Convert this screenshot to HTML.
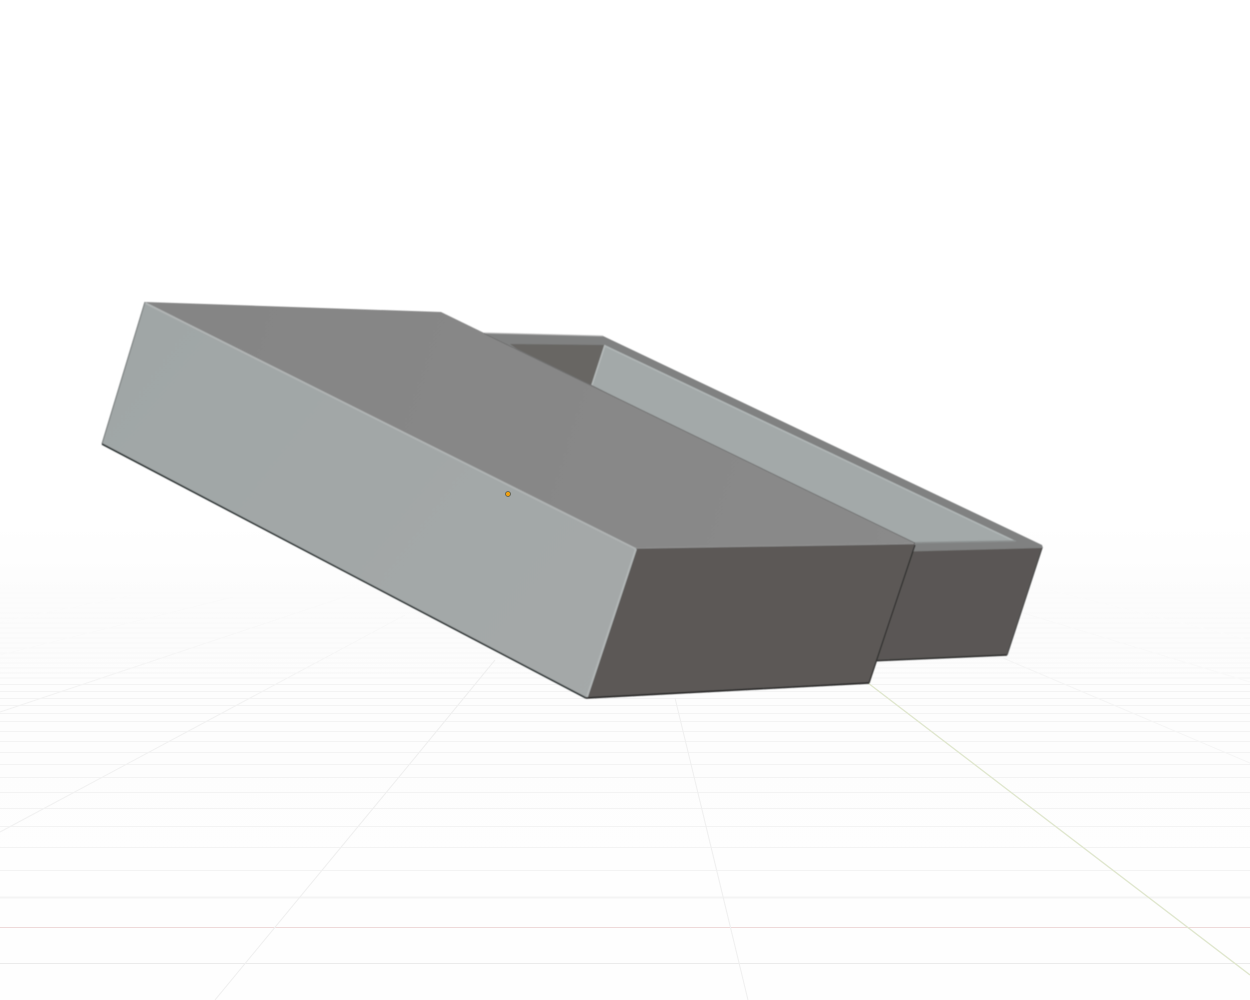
<!DOCTYPE html>
<html>
<head>
<meta charset="utf-8">
<style>
html,body{margin:0;padding:0;background:#fff}
svg{display:block}
</style>
</head>
<body>
<svg width="1250" height="1000" viewBox="0 0 1250 1000" xmlns="http://www.w3.org/2000/svg">
<defs>
<linearGradient id="bg" x1="0" y1="0" x2="0" y2="1">
<stop offset="0" stop-color="#ffffff"/>
<stop offset="0.525" stop-color="#ffffff"/>
<stop offset="0.6" stop-color="#fcfcfc"/>
<stop offset="0.7" stop-color="#fdfdfd"/>
<stop offset="1" stop-color="#fefefe"/>
</linearGradient>
<linearGradient id="fade" x1="0" y1="560" x2="0" y2="690" gradientUnits="userSpaceOnUse">
<stop offset="0" stop-color="#fcfcfc"/>
<stop offset="1" stop-color="#f5f5f5"/>
</linearGradient>
<linearGradient id="dfade" x1="0" y1="590" x2="0" y2="720" gradientUnits="userSpaceOnUse">
<stop offset="0" stop-color="#fbfbfb"/>
<stop offset="1" stop-color="#f1f1f1"/>
</linearGradient>
<linearGradient id="top" x1="145" y1="302" x2="915" y2="544" gradientUnits="userSpaceOnUse">
<stop offset="0" stop-color="#858585"/>
<stop offset="1" stop-color="#8a8a8a"/>
</linearGradient>
<linearGradient id="left" x1="102" y1="300" x2="636" y2="700" gradientUnits="userSpaceOnUse">
<stop offset="0" stop-color="#a0a6a6"/>
<stop offset="1" stop-color="#a5a9a9"/>
</linearGradient>
<filter id="soft" x="-5%" y="-5%" width="110%" height="110%">
<feGaussianBlur stdDeviation="0.55"/>
</filter>
</defs>
<rect width="1250" height="1000" fill="url(#bg)"/>

<path d="M0 588H1250M0 593H1250M0 598H1250M0 603H1250M0 608H1250M0 613H1250M0 618H1250M0 623H1250M0 628H1250M0 633H1250M0 638H1250M0 643H1250M0 648H1250M0 653H1250M0 658H1250M0 663H1250M0 668H1250M0 673H1250M0 678H1250" stroke="url(#fade)" stroke-width="1" fill="none"/>
<g stroke="#f3f3f3" stroke-width="1" fill="none">
<path d="M0 684.500H1250M0 691.500H1250M0 698.500H1250M0 705.500H1250M0 713.500H1250M0 721.500H1250M0 731.500H1250M0 741.500H1250M0 752.500H1250M0 764.500H1250M0 777.500H1250M0 792.500H1250M0 808.500H1250M0 826.500H1250M0 847.500H1250M0 870.500H1250"/>
</g>
<path d="M0 897.500H1250" stroke="#f4f4f4" stroke-width="2"/>
<path d="M0 927.500H1250" stroke="#eed9d9" stroke-width="1"/>
<path d="M0 963.500H1250" stroke="#ebebeb" stroke-width="1"/>

<g fill="none" stroke-width="1">
<path d="M0 832L405 615" stroke="url(#dfade)"/>
<path d="M0 712L350 595" stroke="url(#dfade)"/>
<path d="M0 655L233 597" stroke="#fafafa"/>
<path d="M0 622L133 595" stroke="#fbfbfb"/>
<path d="M1020 612L1250 682" stroke="#f9f9f9"/>
<path d="M1050 590L1250 640" stroke="#fbfbfb"/>
<path d="M1003 658L1250 763" stroke="#f5f5f5"/>
</g>
<g stroke="#efefef" stroke-width="1" fill="none">
<path d="M215 1000L413 760L495 660"/>
<path d="M675 698L748 1000"/>
</g>
<path d="M868 683L1250 975" stroke="#dfe6cd" stroke-width="1.300" fill="none"/>

<g filter="url(#soft)">
<!-- tray -->
<polygon points="484,333 603,336 1042,545 1043,548 1040,549 900,553 600,400" fill="#808181"/>
<polygon points="510,344 605,345 592,385 560,380" fill="#686664"/>
<polygon points="605,345 1016,541 900,543 592,385" fill="#a3a9a9"/>
<path d="M605 345L592 385" stroke="#b5baba" stroke-width="1.500"/>
<path d="M605 346L1014 541" stroke="#b0b6b6" stroke-width="1.500" fill="none"/>
<path d="M484 333L603 336" stroke="#b8b8b8" stroke-width="1"/>
<path d="M900 543L1016 541" stroke="#8c9090" stroke-width="1.500"/>
<polygon points="890,552 1042,548 1007,655 870,661" fill="#5a5755"/>
<path d="M870 661L1007 655" stroke="#2c2c2b" stroke-width="1.400"/>
<path d="M1042 548L1007 655" stroke="#4a4948" stroke-width="1.200"/>

<!-- lid -->
<polygon points="145,302 441,312 915,543 636,549" fill="url(#top)"/>
<polygon points="145,302 636,549 586,698 102,444" fill="url(#left)"/>
<polygon points="636,548 915,543 869,683 586,698" fill="#5c5957"/>
<path d="M145 303L636 549" stroke="#b0b4b4" stroke-width="1.800" fill="none"/>
<path d="M636 549L587 697" stroke="#b3b8b8" stroke-width="1.800" fill="none"/>
<path d="M636 548L914 543.500" stroke="#8e8e8e" stroke-width="1.500" fill="none"/>
<path d="M145 302L102 444" stroke="#7f8484" stroke-width="1.200" fill="none"/>
<path d="M102 444L586 698" stroke="#2c3233" stroke-width="1.600" fill="none"/>
<path d="M586 698L869 683" stroke="#1c1c1c" stroke-width="1.400" fill="none"/>
<path d="M915 545L869 683" stroke="#333231" stroke-width="1.300" fill="none"/>
<path d="M484 333.500L915 543" stroke="#6e6e6e" stroke-width="0.800" fill="none"/>
</g>

<circle cx="508" cy="494" r="2.500" fill="#f0a010" stroke="#5a5a4a" stroke-width="0.800"/>
</svg>
</body>
</html>
